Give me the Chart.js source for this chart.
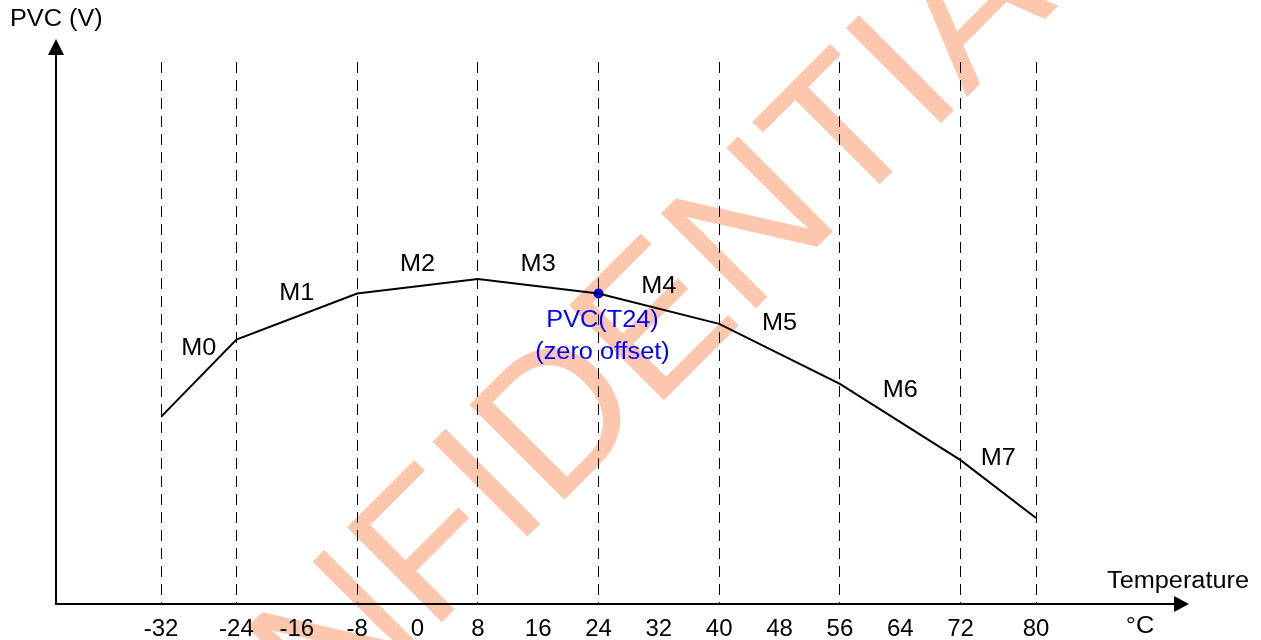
<!DOCTYPE html>
<html>
<head>
<meta charset="utf-8">
<script src="https://cdn.jsdelivr.net/npm/chart.js@4.4.0/dist/chart.umd.min.js"></script>
<style>
  html, body { margin: 0; padding: 0; background: #fff; }
</style>
</head>
<body>
<canvas id="pvcChart" width="1261" height="640"></canvas>
<script>
// breakpoints of the PVC curve (degC) and their level (arbitrary units, 0..100)
const temps = [-32, -24, -8, 8, 24, 40, 56, 72, 80];
const pvc = [34.4, 48.7, 57.2, 59.9, 57.2, 51.6, 40.5, 26.4, 15.7];

// segment names and where they are written
const segNames = ['M0', 'M1', 'M2', 'M3', 'M4', 'M5', 'M6', 'M7'];
const segTemps = [-28, -16, 0, 16, 32, 48, 64, 76];
const segLevels = [47.1, 57.1, 62.5, 62.5, 58.4, 51.6, 39.2, 26.6];

// zero offset reference point
const refTemp = 24;
const refPvc = 57.2;
const refLabels = ['PVC(T24)', '(zero offset)'];

const FONT = '"Liberation Sans", Arial, sans-serif';

// linear scale whose two outer segments are drawn a bit wider
class WarpScale extends Chart.LinearScale {
  warp(v) {
    const k = this.options.edgeStretch;
    const a = this.options.innerMin, b = this.options.innerMax;
    if (v < a) return a - (a - v) * k;
    if (v > b) return b + (v - b) * k;
    return v;
  }
  unwarp(u) {
    const k = this.options.edgeStretch;
    const a = this.options.innerMin, b = this.options.innerMax;
    if (u < a) return a - (a - u) / k;
    if (u > b) return b + (u - b) / k;
    return u;
  }
  getPixelForValue(v) {
    if (v === null || v === undefined) return NaN;
    const lo = this.warp(this.min), hi = this.warp(this.max);
    return this.getPixelForDecimal((this.warp(v) - lo) / (hi - lo));
  }
  getValueForPixel(p) {
    const lo = this.warp(this.min), hi = this.warp(this.max);
    return this.unwarp(lo + this.getDecimalForPixel(p) * (hi - lo));
  }
}
WarpScale.id = 'warp';
WarpScale.defaults = Chart.LinearScale.defaults;
Chart.register(WarpScale);

// text in the picture is a little wider than the font
function wideText(c, text, x, y, align) {
  c.save();
  c.translate(x, y);
  c.scale(1.1, 1);
  c.textAlign = align;
  c.fillText(text, 0, 0);
  c.restore();
}

const watermark = {
  id: 'watermark',
  beforeDraw(chart) {
    const c = chart.ctx;
    c.save();
    c.fillStyle = '#fff';
    c.fillRect(0, 0, chart.width, chart.height);
    c.translate(124, 940);
    c.rotate(-Math.PI / 4);
    c.font = '195px ' + FONT;
    c.fillStyle = '#fdc7ae';
    c.textAlign = 'left';
    c.textBaseline = 'alphabetic';
    c.fillText('CONFIDENTIAL', 0, 0);
    c.restore();
  }
};

const decorations = {
  id: 'decorations',
  afterDatasetsDraw(chart) {
    const c = chart.ctx;
    const xs = chart.scales.x, ys = chart.scales.y;
    const ox = 56, oy = chart.chartArea.bottom + 1;
    c.save();
    // axes with arrow heads
    c.strokeStyle = '#000';
    c.fillStyle = '#000';
    c.lineWidth = 2;
    c.beginPath();
    c.moveTo(ox, oy + 1);
    c.lineTo(ox, 52);
    c.moveTo(ox - 1, oy);
    c.lineTo(1176, oy);
    c.stroke();
    c.beginPath();
    c.moveTo(ox, 39);
    c.lineTo(ox - 8, 55);
    c.lineTo(ox + 8, 55);
    c.closePath();
    c.fill();
    c.beginPath();
    c.moveTo(1189, oy);
    c.lineTo(1174, oy - 8);
    c.lineTo(1174, oy + 8);
    c.closePath();
    c.fill();

    c.font = '23px ' + FONT;
    c.textBaseline = 'middle';
    wideText(c, 'PVC (V)', 10, 20, 'left');
    wideText(c, 'Temperature', 1107, 582, 'left');
    wideText(c, '\u00B0C', 1140, 627, 'center');

    // segment labels
    segNames.forEach((name, i) => {
      wideText(c, name, xs.getPixelForValue(segTemps[i]), ys.getPixelForValue(segLevels[i]), 'center');
    });

    // reference point labels
    c.fillStyle = '#0000ff';
    const rx = xs.getPixelForValue(refTemp) + 4;
    const ry = ys.getPixelForValue(refPvc);
    wideText(c, refLabels[0], rx, ry + 27, 'center');
    wideText(c, refLabels[1], rx, ry + 59, 'center');
    c.restore();
  }
};

new Chart(document.getElementById('pvcChart'), {
  type: 'line',
  data: {
    datasets: [
      {
        data: temps.map((t, i) => ({ x: t, y: pvc[i] })),
        borderColor: '#000',
        borderWidth: 2,
        pointRadius: 0,
        tension: 0
      },
      {
        data: [{ x: refTemp, y: refPvc }],
        showLine: false,
        pointRadius: 5,
        pointBackgroundColor: '#0000ff',
        pointBorderWidth: 0
      }
    ]
  },
  options: {
    responsive: false,
    animation: false,
    layout: { padding: { left: 161, right: 225, top: 62, bottom: 0 } },
    plugins: { legend: { display: false }, tooltip: { enabled: false } },
    scales: {
      x: {
        type: 'warp',
        min: -32,
        max: 80,
        innerMin: -24,
        innerMax: 72,
        edgeStretch: 1.25,
        afterFit(s) { s.height = 37; },
        ticks: {
          stepSize: 8,
          autoSkip: false,
          maxRotation: 0,
          padding: 12,
          color: '#000',
          font: { family: FONT, size: 24 }
        },
        grid: {
          drawTicks: false,
          lineWidth: 1,
          color: ctx => (ctx.tick && temps.includes(ctx.tick.value)) ? '#000' : 'rgba(0,0,0,0)'
        },
        border: { display: false, dash: [11, 7] }
      },
      y: { display: false, min: 0, max: 100 }
    }
  },
  plugins: [watermark, decorations]
});
</script>
</body>
</html>
